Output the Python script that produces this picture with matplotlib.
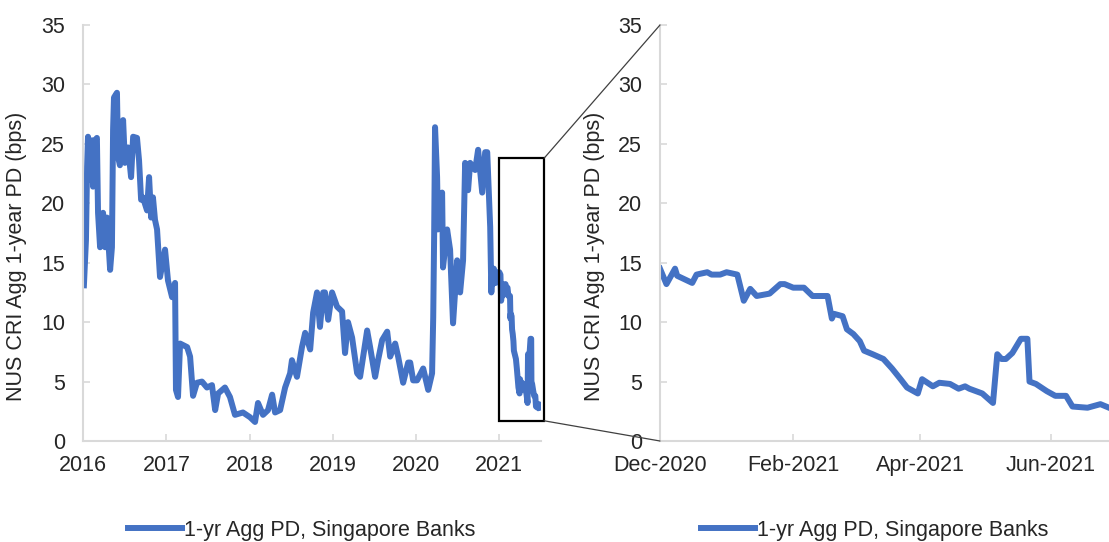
import matplotlib
matplotlib.use("Agg")
import matplotlib.pyplot as plt
import matplotlib.dates as mdates
from matplotlib.patches import Rectangle, ConnectionPatch
import pandas as pd

plt.rcParams['font.family'] = ['Liberation Sans', 'DejaVu Sans']

# ---- data: long history ----
hist_dates = [
    "2016-01-05", "2016-01-14", "2016-01-19", "2016-01-23", "2016-02-01", "2016-02-10",
    "2016-02-14", "2016-02-23", "2016-03-02", "2016-03-07", "2016-03-16", "2016-03-29",
    "2016-04-07", "2016-04-15", "2016-04-29", "2016-05-07", "2016-05-12", "2016-05-16",
    "2016-05-29", "2016-06-03", "2016-06-11", "2016-06-25", "2016-07-03", "2016-07-17",
    "2016-07-30", "2016-08-08", "2016-08-25", "2016-09-03", "2016-09-12", "2016-09-20",
    "2016-10-08", "2016-10-17", "2016-10-26", "2016-11-03", "2016-11-12", "2016-11-21",
    "2016-12-04", "2016-12-26", "2017-01-08", "2017-01-26", "2017-02-08", "2017-02-12",
    "2017-02-21", "2017-03-02", "2017-04-02", "2017-04-15", "2017-04-28", "2017-05-15",
    "2017-06-06", "2017-06-28", "2017-07-20", "2017-08-03", "2017-08-16", "2017-09-15",
    "2017-10-07", "2017-10-29", "2017-12-03", "2018-01-03", "2018-01-25", "2018-02-07",
    "2018-03-01", "2018-03-23", "2018-04-10", "2018-04-23", "2018-05-15", "2018-06-06",
    "2018-06-28", "2018-07-06", "2018-07-28", "2018-08-19", "2018-09-02", "2018-09-24",
    "2018-10-07", "2018-10-24", "2018-11-06", "2018-11-20", "2018-11-28", "2018-12-12",
    "2018-12-29", "2019-01-20", "2019-02-11", "2019-02-24", "2019-03-09", "2019-03-27",
    "2019-04-18", "2019-05-01", "2019-06-01", "2019-06-14", "2019-07-06", "2019-07-19",
    "2019-08-06", "2019-08-28", "2019-09-10", "2019-10-02", "2019-10-15", "2019-11-06",
    "2019-11-28", "2019-12-07", "2019-12-20", "2020-01-06", "2020-02-02", "2020-02-24",
    "2020-03-12", "2020-03-17", "2020-03-21", "2020-03-25", "2020-04-03", "2020-04-07",
    "2020-04-25", "2020-04-29", "2020-05-17", "2020-05-30", "2020-06-12", "2020-06-30",
    "2020-07-13", "2020-07-26", "2020-08-04", "2020-08-17", "2020-08-26", "2020-09-17",
    "2020-09-30", "2020-10-18", "2020-10-31", "2020-11-09", "2020-11-22", "2020-11-27",
]
hist_values = [
    13.1, 16.9, 23.1, 25.6, 22.0, 25.3,
    21.4, 25.3, 25.5, 19.2, 16.3, 19.2,
    16.3, 18.8, 14.4, 16.3, 26.2, 28.9,
    29.3, 23.9, 23.2, 27.0, 23.4, 24.7,
    22.2, 25.6, 25.5, 23.6, 20.3, 20.5,
    19.4, 22.2, 18.8, 20.5, 18.6, 17.8,
    13.8, 16.1, 13.5, 12.1, 13.3, 4.3,
    3.7, 8.2, 7.9, 7.1, 3.8, 4.9,
    5.0, 4.5, 4.7, 2.6, 4.0, 4.5,
    3.7, 2.2, 2.4, 2.0, 1.6, 3.2,
    2.2, 2.6, 3.9, 2.4, 2.6, 4.5,
    5.7, 6.8, 5.4, 7.9, 9.1, 7.7,
    10.8, 12.5, 9.6, 12.5, 12.5, 10.2,
    12.5, 11.3, 10.9, 7.4, 10.0, 8.7,
    5.7, 5.4, 9.3, 7.9, 5.4, 6.8,
    8.5, 9.2, 7.1, 8.2, 7.1, 4.9,
    6.6, 6.6, 5.1, 5.1, 6.1, 4.3,
    5.7, 10.4, 17.2, 26.4, 22.2, 17.8,
    20.9, 14.6, 17.8, 16.1, 9.9, 15.2,
    12.5, 15.2, 23.4, 21.1, 23.4, 22.8,
    24.5, 20.9, 24.3, 24.3, 18.0, 12.5,
]

# ---- data: recent period ----
recent_dates = [
    "2020-12-01", "2020-12-04", "2020-12-08", "2020-12-09", "2020-12-16", "2020-12-18",
    "2020-12-23", "2020-12-25", "2020-12-29", "2021-01-01", "2021-01-06", "2021-01-09",
    "2021-01-12", "2021-01-15", "2021-01-21", "2021-01-26", "2021-01-28", "2021-02-01",
    "2021-02-06", "2021-02-10", "2021-02-17", "2021-02-19", "2021-02-20", "2021-02-24",
    "2021-02-26", "2021-03-01", "2021-03-04", "2021-03-06", "2021-03-10", "2021-03-15",
    "2021-03-19", "2021-03-23", "2021-03-26", "2021-03-31", "2021-04-02", "2021-04-07",
    "2021-04-10", "2021-04-15", "2021-04-19", "2021-04-22", "2021-04-24", "2021-04-30",
    "2021-05-05", "2021-05-07", "2021-05-09", "2021-05-11", "2021-05-14", "2021-05-18",
    "2021-05-21", "2021-05-22", "2021-05-25", "2021-05-30", "2021-06-03", "2021-06-08",
    "2021-06-11", "2021-06-18", "2021-06-24", "2021-06-28",
]
recent_values = [
    14.5, 13.2, 14.5, 13.9, 13.3, 14.0,
    14.2, 14.0, 14.0, 14.2, 14.0, 11.8,
    12.8, 12.2, 12.4, 13.2, 13.2, 12.9,
    12.9, 12.2, 12.2, 10.3, 10.7, 10.5,
    9.4, 9.0, 8.4, 7.6, 7.3, 6.9,
    6.1, 5.2, 4.5, 4.0, 5.2, 4.6,
    4.9, 4.8, 4.4, 4.6, 4.4, 4.0,
    3.2, 7.3, 6.9, 6.9, 7.4, 8.6,
    8.6, 5.0, 4.8, 4.2, 3.8, 3.8,
    2.9, 2.8, 3.1, 2.8,
]

left_ticks = ["2016-01-01", "2017-01-01", "2018-01-01", "2019-01-01", "2020-01-01", "2021-01-01"]
right_ticks = ["2020-12-01", "2021-02-01", "2021-04-01", "2021-06-01"]
series_label = "1-yr Agg PD, Singapore Banks"
y_label = "NUS CRI Agg 1-year PD (bps)"

# ---- build ----
all_dates = pd.to_datetime(hist_dates + recent_dates)
all_values = hist_values + recent_values
rec_dates = pd.to_datetime(recent_dates)

BLUE = "#4472C4"
GRAY = "#D9D9D9"
TXT = "#262626"
FS = 15.5
W, H = 1109, 542
fig = plt.figure(figsize=(W / 100, H / 100), dpi=100)

axL = fig.add_axes([83 / W, 1 - 441 / H, 458 / W, 416 / H])
axR = fig.add_axes([660 / W, 1 - 441 / H, 449 / W, 416 / H])


def style(ax):
    for s in ("top", "right"):
        ax.spines[s].set_visible(False)
    for s in ("left", "bottom"):
        ax.spines[s].set_color(GRAY)
        ax.spines[s].set_linewidth(1.5)
    ax.set_ylim(0, 35)
    ax.set_yticks(range(0, 36, 5))
    ax.tick_params(axis="both", direction="in", length=5, width=1.2, color=GRAY,
                   labelsize=FS, labelcolor=TXT)
    ax.tick_params(axis="y", pad=13)
    ax.tick_params(axis="x", pad=10)
    ax.set_ylabel(y_label, fontsize=FS, color=TXT)
    ax.patch.set_alpha(0)


axL.plot(all_dates, all_values, color=BLUE, lw=4.3, solid_joinstyle="round")
axL.set_xlim(pd.Timestamp("2016-01-01"), pd.Timestamp("2021-07-03"))
axL.set_xticks(pd.to_datetime(left_ticks))
axL.xaxis.set_major_formatter(mdates.DateFormatter("%Y"))
style(axL)
axL.yaxis.set_label_coords(-0.122, 0.445)

axR.plot(rec_dates, recent_values, color=BLUE, lw=4.3, solid_joinstyle="round")
axR.set_xlim(pd.Timestamp("2020-12-01"), pd.Timestamp("2021-06-28"))
axR.set_xticks(pd.to_datetime(right_ticks))
axR.xaxis.set_major_formatter(mdates.DateFormatter("%b-%Y"))
style(axR)
axR.yaxis.set_label_coords(-0.122, 0.445)

# zoom rectangle on left panel
x0 = mdates.date2num(pd.Timestamp("2021-01-01"))
x1 = mdates.date2num(pd.Timestamp("2021-07-17"))
rect = Rectangle((x0, 1.7), x1 - x0, 23.8 - 1.7, fill=False, edgecolor="black",
                 lw=1.6, clip_on=False, zorder=5)
axL.add_patch(rect)

for yv, ya in ((23.8, 1.0), (1.7, 0.0)):
    con = ConnectionPatch(xyA=(x1, yv), coordsA=axL.transData,
                          xyB=(0, ya), coordsB=axR.transAxes,
                          color="#404040", lw=0.9)
    fig.add_artist(con)

for ax in (axL, axR):
    ax.legend([series_label], loc="center", bbox_to_anchor=(0.478, -0.214),
              frameon=False, fontsize=FS, handlelength=2.5, handletextpad=0.1,
              labelcolor=TXT)

fig.savefig("out.png", dpi=100)
